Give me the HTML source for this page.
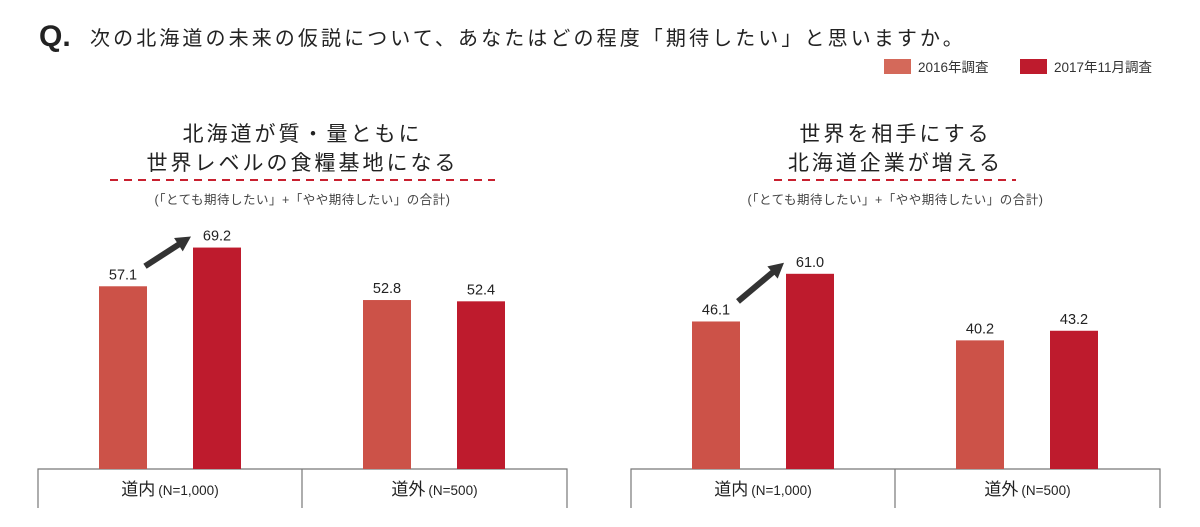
<!DOCTYPE html>
<html><head><meta charset="utf-8"><style>
body{margin:0;background:#fff;width:1200px;height:522px;overflow:hidden;font-family:"Liberation Sans","Noto Sans CJK JP",sans-serif;color:#222}
svg text{font-family:"Liberation Sans","Noto Sans CJK JP",sans-serif}
</style></head><body>
<svg id="chart" width="1200" height="522">
<text x="39" y="46" font-size="30" font-weight="bold" fill="#222">Q.</text>
<text x="90" y="45" font-size="20" letter-spacing="3.1" fill="#222">次の北海道の未来の仮説について、あなたはどの程度「期待したい」と思いますか。</text>
<g>
<rect x="884" y="59" width="27" height="15" fill="#d4695a"/>
<text x="918" y="72" font-size="13.5" fill="#333">2016年調査</text>
<rect x="1020" y="59" width="27" height="15" fill="#be1b2d"/>
<text x="1054" y="72" font-size="13.5" fill="#333">2017年11月調査</text>
</g>
</svg>
<script>
const panels = ["left","right"];
const titles1 = ["北海道が質・量ともに","世界を相手にする"];
const titles2 = ["世界レベルの食糧基地になる","北海道企業が増える"];
const categories = ["道内","道外"];
const catNotes = ["(N=1,000)","(N=500)"];
const series2016 = [[57.1,52.8],[46.1,40.2]];
const series2017 = [[69.2,52.4],[61.0,43.2]];
const labels2016 = [["57.1","52.8"],["46.1","40.2"]];
const labels2017 = [["69.2","52.4"],["61.0","43.2"]];

const NS="http://www.w3.org/2000/svg";
const svg=document.getElementById('chart');
function mk(tag,attrs,parent){const e=document.createElementNS(NS,tag);for(const k in attrs)e.setAttribute(k,attrs[k]);(parent||svg).appendChild(e);return e;}
const baseY=469, scale=3.2;
function y(v){return baseY-v*scale;}
const geo=[{x0:38,mid:302,x1:567,dash:[110,495]},{x0:631,mid:895,x1:1160,dash:[774,1016]}];
panels.forEach((p,pi)=>{
  const g=geo[pi];const cx=(g.x0+g.x1)/2;
  const t1=mk('text',{x:cx,y:141,'font-size':21,'text-anchor':'middle','letter-spacing':3,fill:'#222'});t1.textContent=titles1[pi];
  
  
  const t2=mk('text',{x:cx,y:170,'font-size':21,'text-anchor':'middle','letter-spacing':3,fill:'#222'});t2.textContent=titles2[pi];
  
  
  const dl=mk('line',{x1:g.dash[0],y1:180,x2:g.dash[1],y2:180,stroke:'#c8202f','stroke-width':2,'stroke-dasharray':'8,6'});
  
  
  const nt=mk('text',{x:cx,y:204,'font-size':12.5,'text-anchor':'middle',fill:'#444','letter-spacing':0.5});nt.textContent='(「とても期待したい」+「やや期待したい」の合計)';
  
  
  const ax=mk('path',{d:`M${g.x0} 508 V${baseY} H${g.x1} V508 M${g.mid} ${baseY} V508`,stroke:'#777','stroke-width':1.2,fill:'none'});
  
  
  categories.forEach((c,ci)=>{
    const gx=ci===0?g.x0:g.mid;
    const bx1=gx+61, bx2=gx+155, w=48;
    const vals=[series2016[pi][ci],series2017[pi][ci]];
    const labs=[labels2016[pi][ci],labels2017[pi][ci]];
    [bx1,bx2].forEach((bx,si)=>{
      const r=mk('rect',{x:bx,y:y(vals[si]),width:w,height:vals[si]*scale,fill:si?'#be1b2d':'#cc5248'});
      
      
      const tl=mk('text',{x:bx+w/2,y:y(vals[si])-7,'font-size':14.5,'text-anchor':'middle',fill:'#222'});tl.textContent=labs[si];
      
      
    });
    if(ci===0){
      const ax1=bx1+w-2, ay1=y(vals[0])-20, ax2=bx2-2, ay2=y(vals[1])-11;
      const ang=Math.atan2(ay2-ay1,ax2-ax1);
      const L=15,W=8;
      const bxh=ax2-L*Math.cos(ang), byh=ay2-L*Math.sin(ang);
      const ar=mk('line',{x1:ax1,y1:ay1,x2:bxh+2*Math.cos(ang),y2:byh+2*Math.sin(ang),stroke:'#333','stroke-width':6});
      
      
      const pts=`${ax2},${ay2} ${bxh-W*Math.sin(ang)},${byh+W*Math.cos(ang)} ${bxh+W*Math.sin(ang)},${byh-W*Math.cos(ang)}`;
      const ah=mk('polygon',{points:pts,fill:'#333'});
      
      
    }
    const cxm=ci===0?(g.x0+g.mid)/2:(g.mid+g.x1)/2;
    const ct=mk('text',{x:cxm,y:495,'text-anchor':'middle',fill:'#222'});
    const s1=mk('tspan',{'font-size':17},ct);s1.textContent=c;
    const s2=mk('tspan',{'font-size':13.5,dx:3},ct);s2.textContent=catNotes[ci];
    
    
  });
});
</script>
</body></html>
